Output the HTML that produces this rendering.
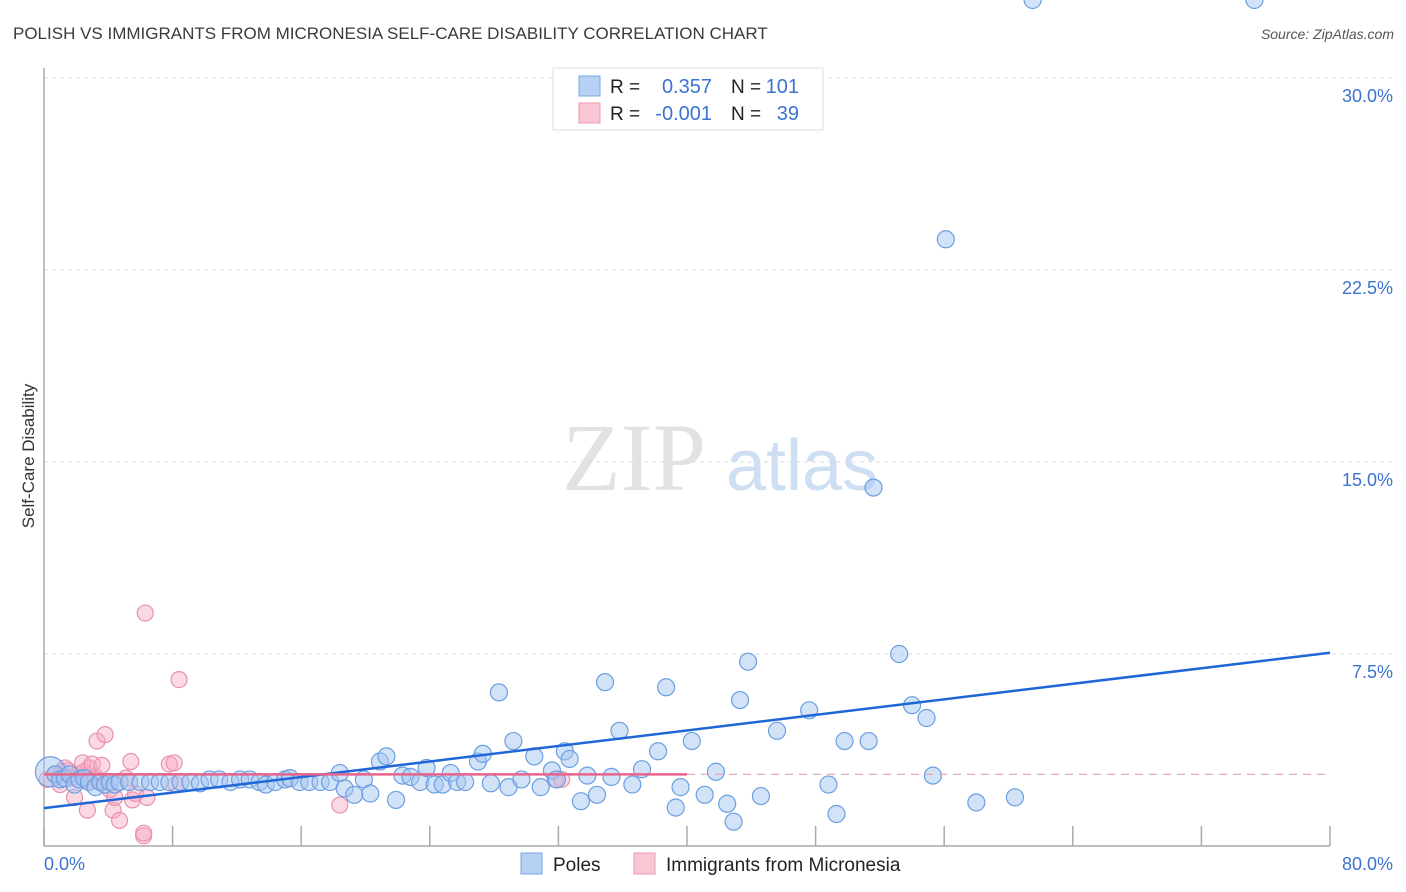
<!DOCTYPE html>
<html><head><meta charset="utf-8"><style>
body{margin:0;background:#fff;font-family:"Liberation Sans",sans-serif;}
svg{display:block}
</style></head><body>
<svg id="chart" width="1406" height="892">
<text x="13" y="39" font-size="17" fill="#3a3a3a">POLISH VS IMMIGRANTS FROM MICRONESIA SELF-CARE DISABILITY CORRELATION CHART</text>
<text x="1394" y="39" font-size="14" fill="#555" font-style="italic" text-anchor="end">Source: ZipAtlas.com</text>
<text transform="translate(34,456) rotate(-90)" font-size="17" fill="#333" text-anchor="middle">Self-Care Disability</text>
<g>
<text x="634" y="490" font-size="96" font-family="Liberation Serif,serif" fill="#e2e2e2" text-anchor="middle">ZIP</text>
<text x="802" y="490" font-size="72" fill="#cfdff3" text-anchor="middle">atlas</text>
</g>
<g id="grid"></g><g id="axes"></g><g id="pink"></g><g id="blue"></g><g id="lines"></g>
<g>
<rect x="553" y="68" width="270" height="62" fill="#fff" stroke="#ddd"/>
<rect x="579" y="76" width="21" height="20" fill="#b7d1f4" stroke="#7aa7e6"/>
<rect x="579" y="103" width="21" height="20" fill="#f9c6d4" stroke="#eb9ab2"/>
<text x="610" y="93" font-size="19" fill="#222">R =</text><text x="712" y="93" font-size="20" fill="#3b73d1" text-anchor="end">0.357</text>
<text x="731" y="93" font-size="19" fill="#222">N =</text><text x="799" y="93" font-size="20" fill="#3b73d1" text-anchor="end">101</text>
<text x="610" y="120" font-size="19" fill="#222">R =</text><text x="712" y="120" font-size="20" fill="#3b73d1" text-anchor="end">-0.001</text>
<text x="731" y="120" font-size="19" fill="#222">N =</text><text x="799" y="120" font-size="20" fill="#3b73d1" text-anchor="end">39</text>
</g>
<g>
<rect x="521" y="853" width="21" height="21" fill="#b7d1f4" stroke="#7aa7e6"/>
<text x="553" y="871" font-size="19" fill="#222">Poles</text>
<rect x="634" y="853" width="21" height="21" fill="#f9c6d4" stroke="#eb9ab2"/>
<text x="666" y="871" font-size="19" fill="#222">Immigrants from Micronesia</text>
</g>
</svg>
<script>
const yTicks=[7.5,15,22.5,30];
const yTickLabels=["7.5%","15.0%","22.5%","30.0%"];
const xTicks=[0,8,16,24,32,40,48,56,64,72,80];
const xTickLabels=["0.0%","80.0%"];
const polesX=[0.4,0.7,1,1.3,1.6,1.9,2.2,2.5,2.8,3.2,3.5,3.8,4.1,4.4,4.7,5.3,6,6.6,7.2,7.8,8.5,9.1,9.7,10.3,10.9,11.6,12.2,12.8,13.4,13.8,14.4,15,15.3,15.9,16.5,17.2,17.8,18.4,18.7,19.3,19.9,20.3,20.9,21.3,21.9,22.3,22.8,23.4,23.8,24.3,24.8,25.3,25.7,26.2,27,27.3,27.8,28.3,28.9,29.2,29.7,30.5,30.9,31.6,31.9,32.4,32.7,33.4,33.8,34.4,34.9,35.3,35.8,36.6,37.2,38.2,38.7,39.6,39.3,40.3,41.1,42.5,41.8,42.9,43.3,43.8,44.6,45.6,46.3,47.6,49.3,48.8,49.8,51.3,51.6,53.2,54,54.9,55.3,56.1,58,60.4,61.5,75.3];
const polesY=[2.9,2.8,2.6,2.65,2.8,2.4,2.6,2.65,2.5,2.3,2.5,2.4,2.5,2.4,2.5,2.5,2.5,2.5,2.5,2.5,2.5,2.5,2.45,2.6,2.6,2.5,2.6,2.6,2.5,2.4,2.5,2.6,2.65,2.5,2.5,2.5,2.5,2.85,2.25,2.0,2.6,2.05,3.3,3.5,1.8,2.75,2.7,2.5,3.05,2.4,2.4,2.85,2.5,2.5,3.3,3.6,2.45,6.0,2.3,4.1,2.6,3.5,2.3,2.95,2.6,3.7,3.4,1.75,2.75,2.0,6.4,2.7,4.5,2.4,3.0,3.7,6.2,2.3,1.5,4.1,2.0,1.65,2.9,0.95,5.7,7.2,1.95,4.5,29.5,5.3,1.25,2.4,4.1,4.1,14.0,7.5,5.5,5.0,2.75,23.7,1.7,1.9];
const micX=[0.2,0.7,1.1,1.5,1.7,2.1,2.5,2.8,3.2,3.5,1,1.3,1.9,2.4,2.7,3,3.3,3.6,3.8,4.1,4.3,4.7,5.1,5.4,5.5,5.7,6.2,6.4,6.3,7.8,8.1,8.4,8.2,6.2,18.4,31.8,32.2,2.7,4.4];
const micY=[2.6,2.8,2.9,2.95,2.65,2.8,2.9,3.05,2.7,2.5,2.4,3.05,1.9,3.25,2.55,3.2,4.1,3.15,4.35,2.2,1.4,1.0,2.65,3.3,1.8,2.05,0.4,1.9,9.1,3.2,3.25,6.5,2.4,0.5,1.6,2.6,2.6,1.4,1.9];
const blueLine=[[0,1.48],[80,7.55]];
const pinkLine=[[0,2.8],[40,2.8]];
const X=v=>44+v/80*1286, Y=v=>846-v/7.5*192;
const NS="http://www.w3.org/2000/svg";
function mk(p,t,a){const e=document.createElementNS(NS,t);for(const k in a)e.setAttribute(k,a[k]);document.getElementById(p).appendChild(e);return e;}
yTicks.forEach((v,i)=>{
 const g=mk('grid','line',{x1:44,x2:1394,y1:Y(v),y2:Y(v),stroke:'#ddd','stroke-dasharray':'4,4'});
 
 
 const t=mk('grid','text',{x:1393,y:Y(v)+24,'font-size':18,fill:'#3b73d1','text-anchor':'end'});
 t.textContent=yTickLabels[i];
 
 
});
mk('axes','line',{x1:44,x2:44,y1:68,y2:846,stroke:'#aaa','stroke-width':1.5});
mk('axes','line',{x1:44,x2:1330,y1:846,y2:846,stroke:'#aaa','stroke-width':1.5});
xTicks.forEach(v=>{const t=mk('axes','line',{x1:X(v),x2:X(v),y1:826,y2:846,stroke:'#aaa','stroke-width':1.5});
 
 });
[[0,'start'],[80,'end']].forEach((p,i)=>{const t=mk('axes','text',{x:i?1393:44,y:870,'font-size':18,fill:'#3b73d1','text-anchor':p[1]});t.textContent=xTickLabels[i];
 
 });
micX.forEach((x,i)=>{const c=mk('pink','circle',{cx:X(x),cy:Y(micY[i]),r:8,fill:'rgba(246,170,195,0.45)',stroke:'#e991ac','stroke-width':1.2});
 
 });
polesX.forEach((x,i)=>{const c=mk('blue','circle',{cx:X(x),cy:Y(polesY[i]),r:i==0?15:8.5,fill:'rgba(165,198,240,0.5)',stroke:'#6b9fe2','stroke-width':1.2});
 
 });
const bl=mk('lines','line',{x1:X(blueLine[0][0]),y1:Y(blueLine[0][1]),x2:X(blueLine[1][0]),y2:Y(blueLine[1][1]),stroke:'#1f66d6','stroke-width':2.5});


const pl=mk('lines','line',{x1:X(pinkLine[0][0]),y1:Y(pinkLine[0][1]),x2:X(pinkLine[1][0]),y2:Y(pinkLine[1][1]),stroke:'#e8648c','stroke-width':2.5});


const pd=mk('lines','line',{x1:X(pinkLine[1][0]),y1:Y(pinkLine[1][1]),x2:X(80),y2:Y(pinkLine[1][1]),stroke:'#eaa0b6','stroke-width':1.2,'stroke-dasharray':'8,6'});


</script>
</body></html>
